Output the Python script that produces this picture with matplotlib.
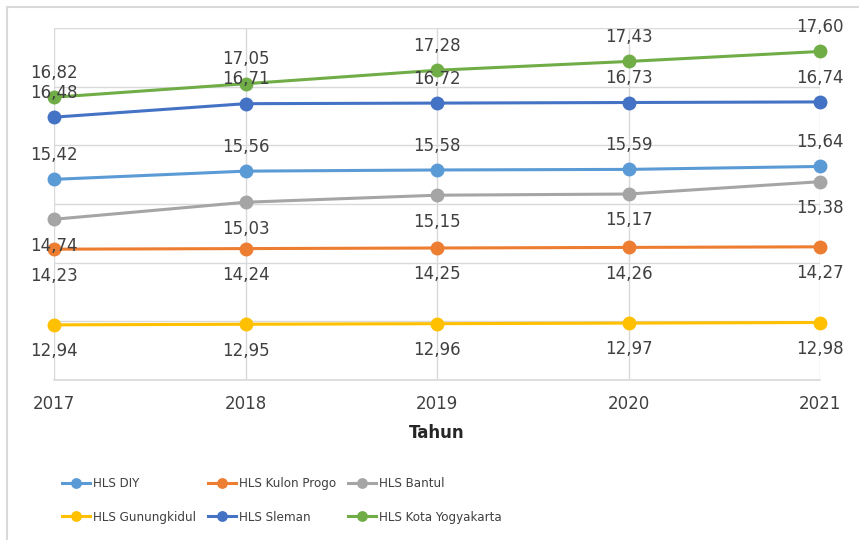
import matplotlib
matplotlib.use('Agg')
import matplotlib.pyplot as plt
from matplotlib.patches import Rectangle
from matplotlib import font_manager

# Data
years = [2017, 2018, 2019, 2020, 2021]
hls_diy = [15.42, 15.56, 15.58, 15.59, 15.64]
hls_kulon_progo = [14.23, 14.24, 14.25, 14.26, 14.27]
hls_bantul = [14.74, 15.03, 15.15, 15.17, 15.38]
hls_gunungkidul = [12.94, 12.95, 12.96, 12.97, 12.98]
hls_sleman = [16.48, 16.71, 16.72, 16.73, 16.74]
hls_kota = [16.82, 17.05, 17.28, 17.43, 17.60]

series = [
    ('HLS DIY', hls_diy, '#5B9BD5', 'above'),
    ('HLS Kulon Progo', hls_kulon_progo, '#ED7D31', 'below'),
    ('HLS Bantul', hls_bantul, '#A5A5A5', 'below'),
    ('HLS Gunungkidul', hls_gunungkidul, '#FFC000', 'below'),
    ('HLS Sleman', hls_sleman, '#4472C4', 'above'),
    ('HLS Kota Yogyakarta', hls_kota, '#70AD47', 'above'),
]

fig = plt.figure(figsize=(8.59, 5.40), dpi=100)
ax = fig.add_axes([54 / 859, 1 - 380 / 540, (820 - 54) / 859, (380 - 28) / 540])

handles = {}
for name, vals, color, pos in series:
    line, = ax.plot(years, vals, color=color, lw=2.2, marker='o', ms=9,
                    clip_on=False, zorder=3, label=name)
    handles[name] = line
    for x, v in zip(years, vals):
        dy = 17.5 if pos == 'above' else -19
        ax.annotate(f'{v:.2f}'.replace('.', ','), (x, v), xytext=(0, dy),
                    textcoords='offset points', ha='center', va='center',
                    fontsize=12, color='#404040', zorder=4)

ax.set_xlim(2017, 2021)
ax.set_ylim(12, 18)
ax.set_xticks(years)
ax.set_xticklabels([str(y) for y in years], fontsize=12, color='#404040')
ax.set_yticks(range(12, 19))
ax.tick_params(axis='y', left=False, labelleft=False)
ax.tick_params(axis='x', length=0, pad=10.5)
ax.grid(True, color='#D9D9D9', lw=1)
ax.set_axisbelow(True)
for s in ['top', 'left', 'right']:
    ax.spines[s].set_visible(False)
ax.spines['bottom'].set_color('#D9D9D9')
ax.spines['bottom'].set_linewidth(1.2)
ax.set_xlabel('Tahun', fontsize=12, fontweight='bold', color='#262626', labelpad=8)

# legend, filled column by column so reorder to read row by row
order = ['HLS DIY', 'HLS Gunungkidul', 'HLS Kulon Progo', 'HLS Sleman',
         'HLS Bantul', 'HLS Kota Yogyakarta']
leg_font = font_manager.FontProperties(family='DejaVu Sans', stretch='condensed', size=9.5)
leg = fig.legend([handles[n] for n in order], order, ncol=3, frameon=False,
                 loc='upper left', bbox_to_anchor=(57 / 859, 1 - 472 / 540),
                 prop=leg_font,
                 handlelength=2.1, handletextpad=0.25, columnspacing=0.9,
                 labelspacing=1.55, markerscale=0.75, borderaxespad=0)
for t in leg.get_texts():
    t.set_color('#404040')

# outer border of the chart area
fig.patches.append(Rectangle((7 / 859, -0.1), 1.2, 1.1 - 7 / 540, transform=fig.transFigure,
                             fill=False, edgecolor='#D9D9D9', lw=1.5))

fig.savefig('out.png', dpi=100)
